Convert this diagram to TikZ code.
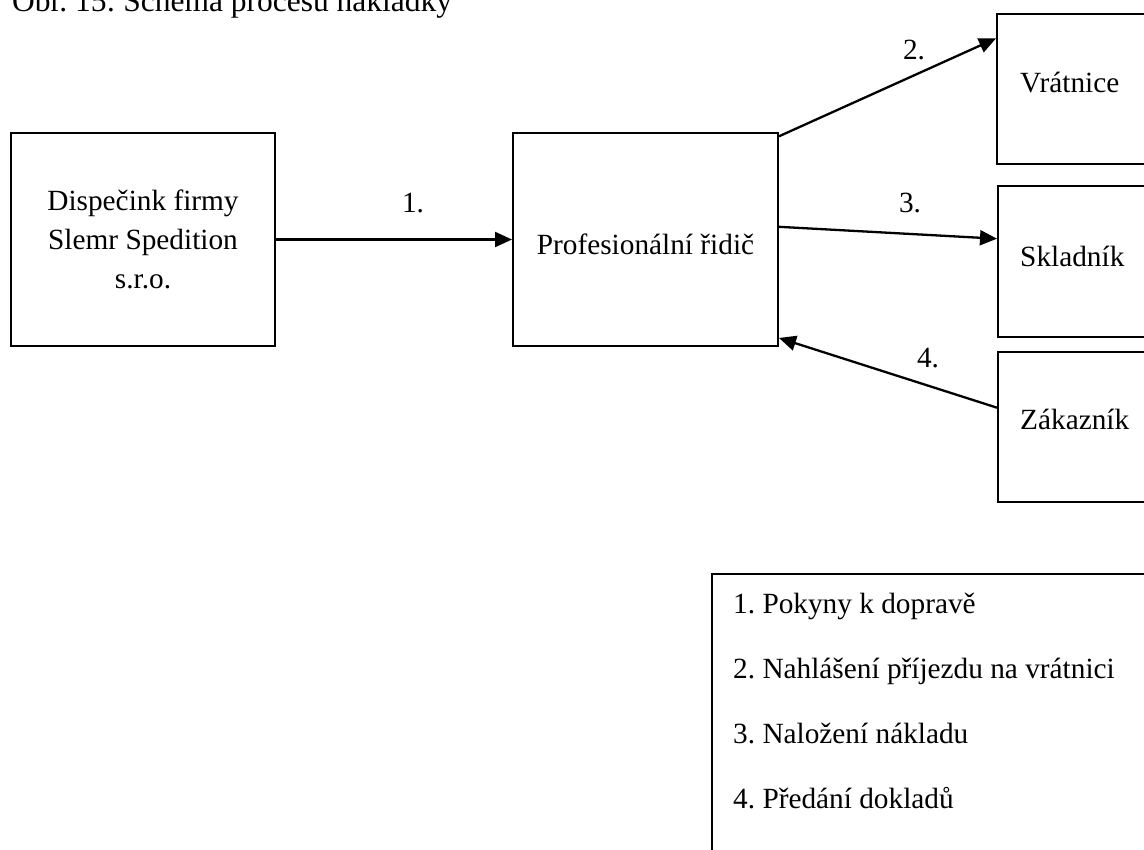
\documentclass[tikz,border=0pt]{standalone}
\usepackage{fontspec}
\setmainfont{Liberation Serif}
\usetikzlibrary{arrows.meta,calc}
\frenchspacing
\begin{document}
\begin{tikzpicture}[x=1pt,y=-1pt,
  every node/.style={font=\fontsize{29.3}{39}\selectfont},
  box/.style={draw,line width=2pt,rectangle,inner sep=0pt},
  conn/.style={line width=2.3pt,-{Triangle[length=17pt,width=15pt]}},
  txt/.style={inner sep=0pt}]
\useasboundingbox (0,0) rectangle (1144,850);
\clip (0,0) rectangle (1144,850);
% title
\node[txt,anchor=base west,font=\fontsize{31.5}{38}\selectfont] (title) at (12,12) {Obr. 15: Schéma procesu nakládky};
% boxes
\node[box,minimum width=264pt,minimum height=213pt,align=center] (disp) at (143,239.5) {Dispečink firmy\\Slemr Spedition\\s.r.o.};
\node[box,minimum width=265pt,minimum height=213pt,text height=31pt,text depth=0pt] (prof) at (645.5,239.5) {Profesionální řidič};
\node[box,minimum width=156pt,minimum height=150pt] (vr) at (1075,89) {};
\node[box,minimum width=156pt,minimum height=151pt] (skl) at (1076,261.5) {};
\node[box,minimum width=156pt,minimum height=150pt] (zak) at (1076,427) {};
\node[txt,anchor=base west] (vrt) at (1020,93) {Vrátnice};
\node[txt,anchor=base west] (sklt) at (1020,267) {Skladník};
\node[txt,anchor=base west] (zakt) at (1020,430) {Zákazník};
% legend
\node[box,minimum width=450pt,minimum height=300pt] (leg) at (937,724) {};
\node[txt,anchor=base west] (l1) at (733,613) {1. Pokyny k dopravě};
\node[txt,anchor=base west] (l2) at (733,678) {2. Nahlášení příjezdu na vrátnici};
\node[txt,anchor=base west] (l3) at (733,743) {3. Naložení nákladu};
\node[txt,anchor=base west] (l4) at (733,808) {4. Předání dokladů};
% connectors
\draw[conn] (disp.east) -- (prof.west);
\draw[conn] ($(prof.north east)!0.02!(prof.south east)$) -- ($(vr.north west)!0.167!(vr.south west)$);
\draw[conn] ($(prof.north east)!0.441!(prof.south east)$) -- ($(skl.north west)!0.351!(skl.south west)$);
\draw[conn] ($(zak.north west)!0.373!(zak.south west)$) -- ($(prof.north east)!0.958!(prof.south east)$);
% connector labels
\node[txt,anchor=base] (n1) at (413,213) {1.};
\node[txt,anchor=base] (n2) at (914,60) {2.};
\node[txt,anchor=base] (n3) at (910,213) {3.};
\node[txt,anchor=base] (n4) at (928,368) {4.};
\end{tikzpicture}
\end{document}
